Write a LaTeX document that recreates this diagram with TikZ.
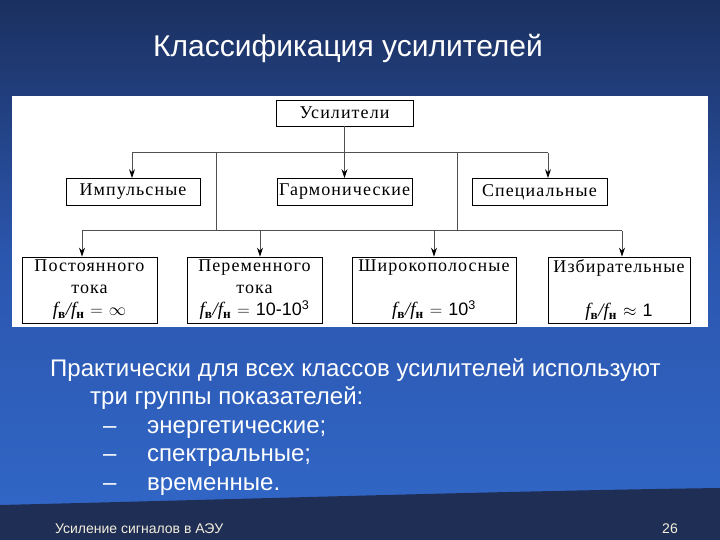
\documentclass[tikz,border=0pt]{standalone}
\usepackage{fontspec}
\setmainfont{Liberation Serif}
\newfontfamily\slidefont{Liberation Sans}
\newfontfamily\digitfont{Liberation Sans}
\newfontfamily\boxfont[LetterSpace=6]{Liberation Serif}
\usetikzlibrary{arrows.meta, positioning, calc}

\definecolor{navytop}{HTML}{1B305F}
\definecolor{bluemid}{HTML}{2B56AE}
\definecolor{bluebot}{HTML}{3166C6}
\definecolor{footnavy}{HTML}{1F2E54}
\definecolor{wirecol}{HTML}{505050}
\definecolor{foottext}{HTML}{F2EEDD}

% отношение верхней и нижней граничных частот
\newcommand{\fratio}{{\rmfamily\fontsize{19}{22}\selectfont\itshape f\textsubscript{\upshape\bfseries в}/f\textsubscript{\upshape\bfseries н}}}

\tikzset{
  box/.style={rectangle, draw=black, line width=0.8pt, fill=white,
              minimum width=#1, text width=#1-4pt, align=center, inner sep=0pt,
              minimum height=27pt, font=\boxfont\fontsize{18}{22}\selectfont},
  box/.default=135pt,
  tallbox/.style={box=#1, minimum height=66pt},
  tallbox/.default=135pt,
  wire/.style={draw=wirecol, line width=1pt},
  arrow/.style={wire, -{Stealth[length=9pt, width=6pt, black]}},
  slide/.style={text=white, font=\slidefont\fontsize{24}{29}\selectfont, inner sep=0pt},
}

\begin{document}
\begin{tikzpicture}[x=1pt, y=-1pt]
\useasboundingbox (0,0) rectangle (720,540);

% ── фон слайда ───────────────────────────────────────────────────────────────
\shade[top color=navytop, bottom color=bluebot, middle color=bluemid]
  (0,0) rectangle (720,510);
\fill[footnavy] (0,505) .. controls (250,499) and (500,491) .. (720,488)
  -- (720,540) -- (0,540) -- cycle;
\fill[white] (12,96) rectangle (708,327);

% ── заголовок ────────────────────────────────────────────────────────────────
\node[slide, font=\slidefont\fontsize{30}{36}\selectfont, anchor=base]
  (title) at (348,57) {Классификация усилителей};

% ── дерево классификации ─────────────────────────────────────────────────────
\node[box=137pt, minimum height=26pt] (amp) at (344.5,113) {Усилители};

\node[box=134pt] (imp)  at (133,192)   {Импульсные};
\node[box=135pt] (harm) at (344.5,192) {Гармонические};
\node[box=135pt] (spec) at (539.5,192) {Специальные};

\node[tallbox=135pt] (dc)  at (89.5,290)
  {Постоянного\\тока\\\fratio{} $=$ $\infty$};
\node[tallbox=135pt] (ac)  at (254.5,290)
  {Переменного\\тока\\\fratio{} $=$ {\digitfont 10-10\textsuperscript{3}}};
\node[tallbox=164pt] (wide) at (434,290)
  {Широкополосные\\\mbox{}\\\fratio{} $=$ {\digitfont 10\textsuperscript{3}}};
\node[tallbox=142pt] (sel) at (619,290)
  {Избирательные\\\mbox{}\\\fratio{} $\approx$ {\digitfont 1}};

% шины и отводы
\coordinate (busA) at (344.5,153);
\coordinate (dropI) at (132,153);
\coordinate (dropS) at (548,153);
\coordinate (tapL) at (216,153);
\coordinate (tapR) at (457,153);
\coordinate (busB) at (216,231);
\coordinate (dropD) at (82,231);
\coordinate (dropA) at (260,231);
\coordinate (dropW) at (434,231);
\coordinate (dropE) at (622,231);

\draw[wire] (amp) -- (busA);
\draw[wire] (dropI) -- (dropS);
\draw[arrow] (dropI) -- (dropI |- imp.north);
\draw[arrow] (busA) -- (harm);
\draw[arrow] (dropS) -- (dropS |- spec.north);

\draw[wire] (tapL) -- (tapL |- busB);
\draw[wire] (tapR) -- (tapR |- busB);
\draw[wire] (dropD) -- (dropE);
\draw[arrow] (dropD) -- (dropD |- dc.north);
\draw[arrow] (dropA) -- (dropA |- ac.north);
\draw[arrow] (dropW) -- (dropW |- wide.north);
\draw[arrow] (dropE) -- (dropE |- sel.north);

% ── текст под схемой ─────────────────────────────────────────────────────────
\node[slide, anchor=base west] (intro) at (50,376)
  {Практически для всех классов усилителей используют};
\node[slide, anchor=base west] (groups) at (90,404) {три группы показателей:};
\node[slide, anchor=base west] (d1) at (103,433) {–};
\node[slide, anchor=base west] (g1) at (147,433) {энергетические;};
\node[slide, anchor=base west] (d2) at (103,461) {–};
\node[slide, anchor=base west] (g2) at (147,461) {спектральные;};
\node[slide, anchor=base west] (d3) at (103,490) {–};
\node[slide, anchor=base west] (g3) at (147,490) {временные.};

% ── нижний колонтитул ────────────────────────────────────────────────────────
\node[slide, font=\slidefont\fontsize{14}{16}\selectfont, text=foottext,
      anchor=base west] (foot) at (55,533) {Усиление сигналов в АЭУ};
\node[slide, font=\slidefont\fontsize{14}{16}\selectfont, text=foottext,
      anchor=base east] (page) at (678,533) {26};

\end{tikzpicture}
\end{document}
